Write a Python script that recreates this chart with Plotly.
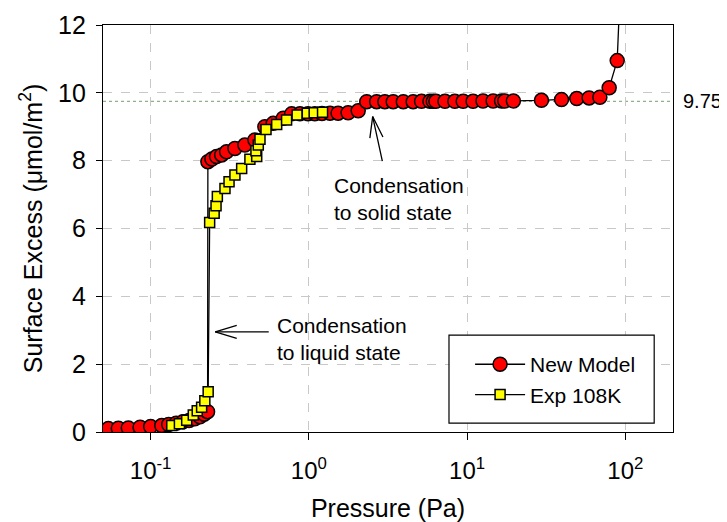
import numpy as np
import plotly.graph_objects as go

# ---- data ----
model_p = [0.054, 0.0625, 0.0723, 0.0858, 0.1, 0.1175, 0.13, 0.145, 0.16, 0.175, 0.19, 0.205,
           0.218, 0.229, 0.230, 0.244, 0.261, 0.281, 0.302, 0.341, 0.394, 0.456, 0.527, 0.595,
           0.689, 0.778, 0.878, 0.987, 1.09, 1.21, 1.36, 1.53, 1.77, 2.05, 2.32, 2.68, 3.02,
           3.41, 3.95, 4.56, 5.15, 5.82, 6.11, 6.35, 7.24, 8.36, 9.44, 10.9, 12.6, 14.6, 16.5,
           17.3, 19.6, 29.5, 39.5, 49.3, 59.0, 69.0, 79.0, 88.8, 94.5]
model_v = [0.10, 0.11, 0.12, 0.14, 0.16, 0.19, 0.22, 0.26, 0.30, 0.34, 0.39, 0.45,
           0.52, 0.60, 7.97, 8.05, 8.12, 8.17, 8.26, 8.36, 8.46, 8.61, 9.00, 9.10,
           9.25, 9.38, 9.38, 9.38, 9.38, 9.39, 9.40, 9.40, 9.41, 9.47, 9.74, 9.74, 9.74,
           9.74, 9.74, 9.74, 9.75, 9.75, 9.75, 9.75, 9.75, 9.75, 9.75, 9.75, 9.76, 9.76, 9.76,
           9.76, 9.76, 9.78, 9.80, 9.83, 9.85, 9.87, 10.15, 10.95, 14.0]

exp_p = [0.136, 0.152, 0.169, 0.186, 0.197, 0.210, 0.220, 0.231, 0.236, 0.252, 0.259, 0.264,
         0.295, 0.313, 0.341, 0.376, 0.424, 0.468, 0.463, 0.479, 0.491, 0.536, 0.626, 0.723,
         0.843, 0.977, 1.08, 1.22]
exp_v = [0.19, 0.24, 0.35, 0.50, 0.63, 0.73, 0.92, 1.19, 6.18, 6.45, 6.67, 6.94,
         7.18, 7.38, 7.58, 7.77, 8.04, 8.12, 8.29, 8.46, 8.63, 8.92, 9.07, 9.20,
         9.35, 9.40, 9.41, 9.43]

x_tickvals = [0.1, 1, 10, 100]
x_ticktext = ["10<sup>-1</sup>", "10<sup>0</sup>", "10<sup>1</sup>", "10<sup>2</sup>"]
y_tickvals = [0, 2, 4, 6, 8, 10, 12]
ref_level = 9.75

FONT = "Liberation Sans, Arial, sans-serif"

fig = go.Figure()
fig.add_trace(go.Scatter(
    x=model_p, y=model_v, mode="lines+markers", name="New Model",
    line=dict(color="black", width=1.3),
    marker=dict(symbol="circle", size=14, color="#ff0000", line=dict(color="black", width=1.5)),
))
fig.add_trace(go.Scatter(
    x=exp_p, y=exp_v, mode="lines+markers", name="Exp 108K",
    line=dict(color="black", width=1.3),
    marker=dict(symbol="square", size=10, color="#ffff00", line=dict(color="black", width=1.5)),
))

# dotted reference line
fig.add_shape(type="line", xref="paper", x0=0, x1=1, yref="y", y0=ref_level, y1=ref_level,
              line=dict(color="#8fb08f", width=1.2, dash="dot"), layer="below")
# legend frame
fig.add_shape(type="rect", xref="paper", yref="paper", x0=0.607, x1=0.967, y0=0.022, y1=0.238,
              line=dict(color="black", width=1.2), fillcolor="white", layer="above")

annotations = []
annotations.append(dict(xref="paper", x=1.0, xshift=8, xanchor="left", yref="y", y=ref_level,
                        yanchor="middle", text=str(ref_level), showarrow=False,
                        font=dict(size=20, color="black", family=FONT)))

def open_arrow(px, py, tail, arm1, arm2):
    out = []
    for (ax, ay) in (tail, arm1, arm2):
        out.append(dict(x=np.log10(px), y=py, xref="x", yref="y", text="", showarrow=True,
                        arrowhead=0, arrowwidth=1.3, arrowcolor="black", ax=ax, ay=ay,
                        standoff=0, startstandoff=0))
    return out

# liquid condensation arrow
annotations += open_arrow(0.256, 2.95, (55, 0), (23, -7), (23, 7))
# solid condensation arrow
annotations += open_arrow(2.53, 9.30, (10, 46), (-3, 23), (11, 22))

annotations.append(dict(x=np.log10(0.61), y=3.53, xref="x", yref="y", xanchor="left", yanchor="top",
                        text="Condensation<br>to liquid state", align="left", showarrow=False,
                        font=dict(size=21, color="black", family=FONT)))
annotations.append(dict(x=np.log10(1.40), y=7.68, xref="x", yref="y", xanchor="left", yanchor="top",
                        text="Condensation<br>to solid state", align="left", showarrow=False,
                        font=dict(size=21, color="black", family=FONT)))

# page body has an 8px margin: the figure is shrunk by it so the plot area lands where the reference has it
fig.update_layout(
    width=719, height=514,
    margin=dict(l=95, r=54, t=17, b=90, autoexpand=False),
    paper_bgcolor="white", plot_bgcolor="white",
    font=dict(family=FONT, color="black"),
    showlegend=True,
    legend=dict(x=0.644, y=0.216, xanchor="left", yanchor="top",
                bgcolor="rgba(0,0,0,0)", borderwidth=0,
                font=dict(size=21, family=FONT), itemwidth=50,
                tracegroupgap=0),
    annotations=annotations,
)

fig.update_xaxes(
    type="log", range=[np.log10(0.05), np.log10(200)], automargin=False,
    tickvals=x_tickvals, ticktext=x_ticktext,
    tickfont=dict(size=24, family=FONT), ticks="outside", ticklen=7, tickcolor="black",
    ticklabelstandoff=10,
    showline=True, linecolor="black", linewidth=1.3, mirror=True,
    showgrid=True, gridcolor="#c8c8c8", griddash="dash", gridwidth=1,
    zeroline=False,
    title=dict(text="Pressure (Pa)", font=dict(size=25, family=FONT), standoff=18),
)
fig.update_yaxes(
    range=[0, 12], tickvals=y_tickvals, automargin=False,
    tickfont=dict(size=25, family=FONT), ticks="outside", ticklen=6, tickcolor="black",
    ticklabelstandoff=5,
    showline=True, linecolor="black", linewidth=1.3, mirror=True,
    showgrid=True, gridcolor="#c8c8c8", griddash="dash", gridwidth=1,
    zeroline=False,
    title=dict(text="Surface Excess (μmol/m<sup>2</sup>)", font=dict(size=25, family=FONT), standoff=8),
)

fig.write_html("out.html")
